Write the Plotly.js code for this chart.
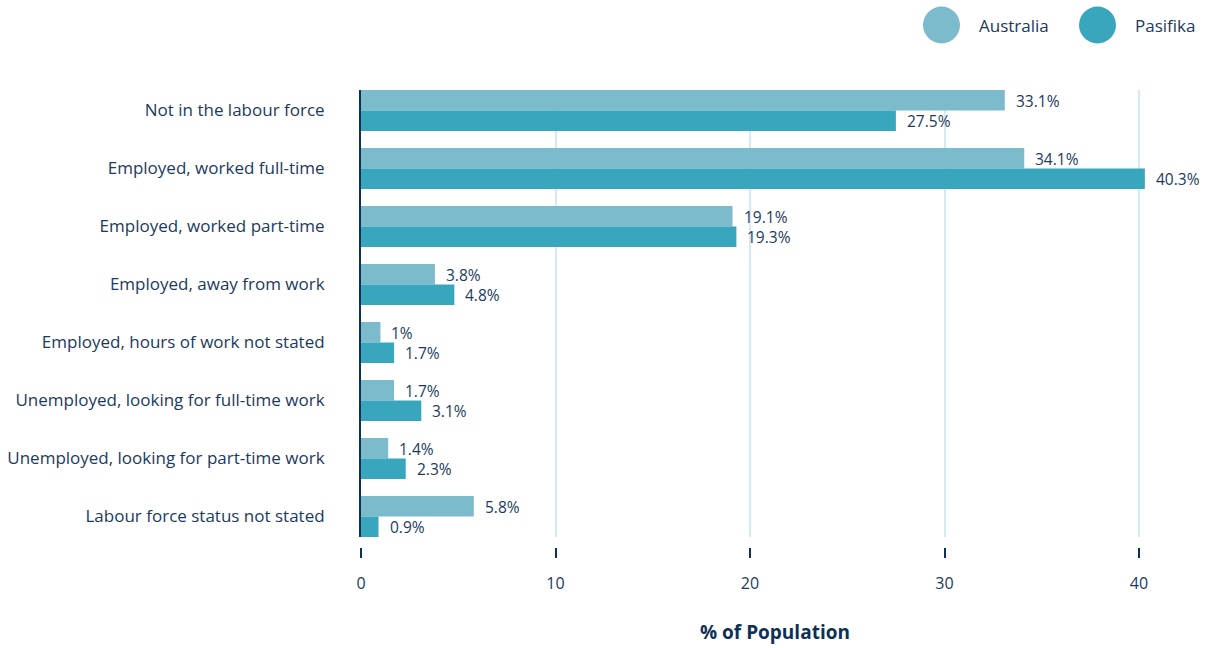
<!DOCTYPE html>
<html>
<head>
<meta charset="utf-8">
<script src="https://cdn.plot.ly/plotly-3.0.1.min.js"></script>
<style>html,body{margin:0;padding:0;background:#fff;}#chart{width:1211px;height:648px;}</style>
</head>
<body>
<div id="chart"></div>
<script>
const categories = [
  "Not in the labour force",
  "Employed, worked full-time",
  "Employed, worked part-time",
  "Employed, away from work",
  "Employed, hours of work not stated",
  "Unemployed, looking for full-time work",
  "Unemployed, looking for part-time work",
  "Labour force status not stated"
];
const australia = [33.1, 34.1, 19.1, 3.8, 1, 1.7, 1.4, 5.8];
const pasifika  = [27.5, 40.3, 19.3, 4.8, 1.7, 3.1, 2.3, 0.9];
const seriesNames = ["Australia", "Pasifika"];
const xTicks = [0, 10, 20, 30, 40];

const NAVY = "#1C3A5E";
const AXIS = "#0F3057";
const C_AUS = "#7BBBCC";
const C_PAS = "#38A7BD";
const FONT = "Open Sans, sans-serif";

const traces = [
  {type: "bar", orientation: "h", name: seriesNames[0], y: categories, x: australia,
   marker: {color: C_AUS}, hoverinfo: "x+name", showlegend: false},
  {type: "bar", orientation: "h", name: seriesNames[1], y: categories, x: pasifika,
   marker: {color: C_PAS}, hoverinfo: "x+name", showlegend: false}
];

const annotations = [];
categories.forEach((c, i) => {
  annotations.push({x: australia[i], y: c, xref: "x", yref: "y", text: australia[i] + "%",
    showarrow: false, xanchor: "left", yanchor: "middle", xshift: 9, yshift: 10,
    font: {family: FONT, size: 15.5, color: NAVY}});
  annotations.push({x: pasifika[i], y: c, xref: "x", yref: "y", text: pasifika[i] + "%",
    showarrow: false, xanchor: "left", yanchor: "middle", xshift: 9, yshift: -10,
    font: {family: FONT, size: 15.5, color: NAVY}});
});

// legend (custom, large circles)
const legendY = 1.1422;
const legendItems = [
  {name: seriesNames[0], color: C_AUS, cx: 0.7011, tx: 0.7440},
  {name: seriesNames[1], color: C_PAS, cx: 0.8895, tx: 0.9324}
];
const shapes = [];
legendItems.forEach(it => {
  shapes.push({type: "circle", xref: "paper", yref: "paper", xsizemode: "pixel", ysizemode: "pixel",
    xanchor: it.cx, yanchor: legendY, x0: -18.5, x1: 18.5, y0: -18.5, y1: 18.5,
    fillcolor: it.color, line: {width: 0}});
  annotations.push({x: it.tx, y: legendY, xref: "paper", yref: "paper", text: it.name,
    showarrow: false, xanchor: "left", yanchor: "middle",
    font: {family: FONT, size: 17, color: NAVY}});
});

const layout = {
  width: 1211, height: 648,
  margin: {l: 361, r: 22, t: 90, b: 101, pad: 0},
  paper_bgcolor: "#fff", plot_bgcolor: "#fff",
  barmode: "group", bargap: 0.293, bargroupgap: 0,
  showlegend: false,
  font: {family: FONT, color: NAVY, size: 16},
  xaxis: {
    range: [0, 42.57], tickvals: xTicks, ticktext: xTicks.map(String),
    anchor: "free", position: 0,
    showgrid: true, gridcolor: "#D3EBF1", gridwidth: 2,
    zeroline: false, showline: false,
    ticks: "outside", ticklen: 10, tickwidth: 2, tickcolor: AXIS,
    ticklabelstandoff: 12,
    tickfont: {family: FONT, size: 16, color: NAVY},
    title: {text: "% of Population", standoff: 32,
      font: {family: FONT, size: 19, color: "#0E3055", weight: "bold"}},
    fixedrange: true
  },
  yaxis: {
    domain: [10/457, 1],
    type: "category", categoryorder: "array", categoryarray: categories,
    range: [7.3534, -0.3534],
    showgrid: false, zeroline: false,
    showline: true, linecolor: AXIS, linewidth: 2,
    ticks: "", ticklabelstandoff: 31,
    tickfont: {family: FONT, size: 17, color: NAVY},
    fixedrange: true
  },
  annotations: annotations,
  shapes: shapes
};

Plotly.newPlot("chart", traces, layout, {displayModeBar: false, responsive: false});
</script>
</body>
</html>
